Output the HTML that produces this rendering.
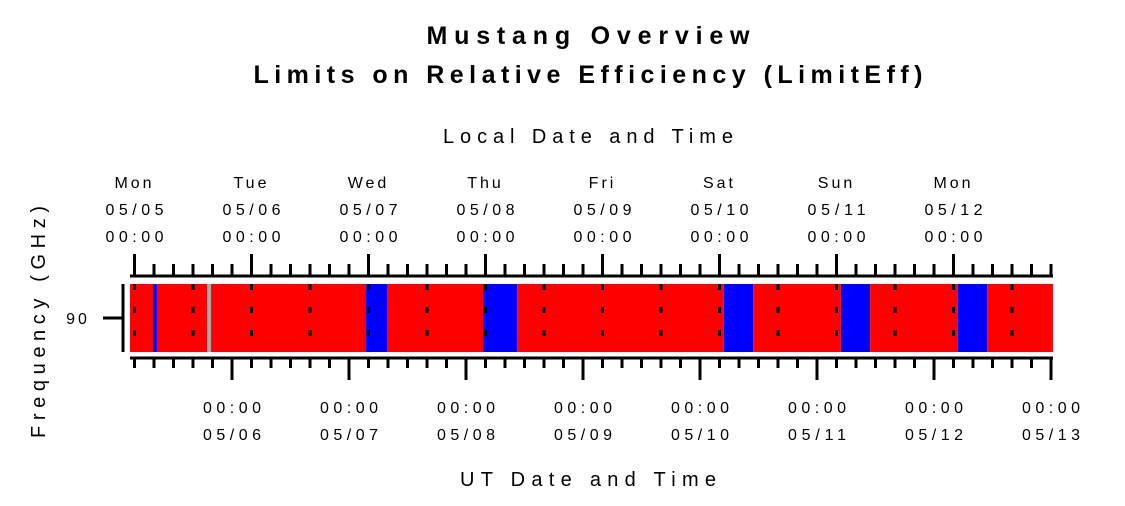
<!DOCTYPE html>
<html><head><meta charset="utf-8"><style>
html,body{margin:0;padding:0;background:#fff;}
svg{display:block;font-family:"Liberation Sans",sans-serif;}
</style></head><body>
<svg id="chart" width="1125" height="506" viewBox="0 0 1125 506">
<text x="588" y="44" font-size="25" font-weight="bold" text-anchor="middle" textLength="323" lengthAdjust="spacing">Mustang Overview</text>
<text x="588" y="83" font-size="25" font-weight="bold" text-anchor="middle" textLength="669" lengthAdjust="spacing">Limits on Relative Efficiency (LimitEff)</text>
<text x="588" y="143" font-size="20" text-anchor="middle" textLength="290" lengthAdjust="spacing">Local Date and Time</text>
<text x="588" y="486" font-size="20" text-anchor="middle" textLength="256" lengthAdjust="spacing">UT Date and Time</text>
<text transform="translate(45,322) rotate(-90)" font-size="20" text-anchor="middle" textLength="232" lengthAdjust="spacing">Frequency (GHz)</text>
<g id="bars"></g>
<g id="axes"></g>
</svg>
<script>
// Data (UT hours from 05/05 00:00 UT)
const segStart = [3.08, 7.8, 8.6, 18.9, 19.7, 51.5, 55.8, 75.5, 82.5, 124.9, 130.9, 148.9, 154.9, 172.9, 178.9];
const segEnd   = [7.8, 8.6, 18.9, 19.7, 51.5, 55.8, 75.5, 82.5, 124.9, 130.9, 148.9, 154.9, 172.9, 178.9, 192.4];
const segState = ["red","blue","red","gray","red","blue","red","blue","red","blue","red","blue","red","blue","red"];
const dayNames = ["Mon","Tue","Wed","Thu","Fri","Sat","Sun","Mon"];
const localDates = ["05/05","05/06","05/07","05/08","05/09","05/10","05/11","05/12"];
const utDates = ["05/06","05/07","05/08","05/09","05/10","05/11","05/12","05/13"];
const freqLabels = ["90"];
const localOffset = 4; // local midnight = UT 04:00

const NS = "http://www.w3.org/2000/svg";
const x0 = 115, pxPerHour = 117/24;
const xs = h => x0 + h*pxPerHour;
const barTop = 284, barBot = 352, xL = 130, xR = 1053;
const colors = {red:"#ff0000", blue:"#0000ff", gray:"#a8a8a8"};
function mk(tag, attrs, parent){const e=document.createElementNS(NS,tag);for(const k in attrs)e.setAttribute(k,attrs[k]);parent.appendChild(e);return e;}
const bars = document.getElementById("bars"), axes = document.getElementById("axes");

segStart.forEach((s,i)=>{
  const r = mk("rect",{x:xs(s),y:barTop,width:xs(segEnd[i])-xs(s),height:barBot-barTop,fill:colors[segState[i]]},bars);
  
  
});
// dashed 12h local grid
for(let h=localOffset; xs(h)<=xR; h+=12){
  const l = mk("line",{x1:xs(h),x2:xs(h),y1:barTop,y2:barBot,stroke:"#000","stroke-width":3,"stroke-dasharray":"6 17"},bars);
  
  
}
// top axis
let ta = mk("line",{x1:xL,x2:xR,y1:276,y2:276,stroke:"#000","stroke-width":3},axes);


for(let h=localOffset; xs(h)<=xR+1; h+=4){
  const major = (h-localOffset)%24===0;
  const t = mk("line",{x1:xs(h),x2:xs(h),y1:major?254:264,y2:276,stroke:"#000","stroke-width":3},axes);
  
  
}
dayNames.forEach((d,i)=>{
  const x = xs(localOffset+24*i);
  const a = mk("text",{x:x,y:188,"font-size":16,"text-anchor":"middle","letter-spacing":"3"},axes); a.textContent=d;
  
  
  const b = mk("text",{x:x,y:215,"font-size":16,"text-anchor":"middle",textLength:58,lengthAdjust:"spacing"},axes); b.textContent=localDates[i];
  
  
  const c = mk("text",{x:x,y:242,"font-size":16,"text-anchor":"middle",textLength:58,lengthAdjust:"spacing"},axes); c.textContent="00:00";
  
  
});
// bottom axis
let ba = mk("line",{x1:xL,x2:xR,y1:358,y2:358,stroke:"#000","stroke-width":3},axes);


for(let h=4; xs(h)<=xR+1; h+=4){
  const major = h%24===0;
  const t = mk("line",{x1:xs(h),x2:xs(h),y1:358,y2:major?380:368,stroke:"#000","stroke-width":3},axes);
  
  
}
utDates.forEach((d,i)=>{
  const x = xs(24*(i+1));
  const a = mk("text",{x:x,y:413,"font-size":16,"text-anchor":"middle",textLength:58,lengthAdjust:"spacing"},axes); a.textContent="00:00";
  
  
  const b = mk("text",{x:x,y:440,"font-size":16,"text-anchor":"middle",textLength:58,lengthAdjust:"spacing"},axes); b.textContent=d;
  
  
});
// y axis
let ya = mk("line",{x1:123,x2:123,y1:284,y2:352,stroke:"#000","stroke-width":3},axes);


freqLabels.forEach((f,i)=>{
  const y = (barTop+barBot)/2;
  const t = mk("line",{x1:103,x2:123,y1:y,y2:y,stroke:"#000","stroke-width":3},axes);
  
  
  const l = mk("text",{x:78,y:y+6,"font-size":16,"text-anchor":"middle","letter-spacing":"3"},axes); l.textContent=f;
  
  
});
</script>
</body></html>
